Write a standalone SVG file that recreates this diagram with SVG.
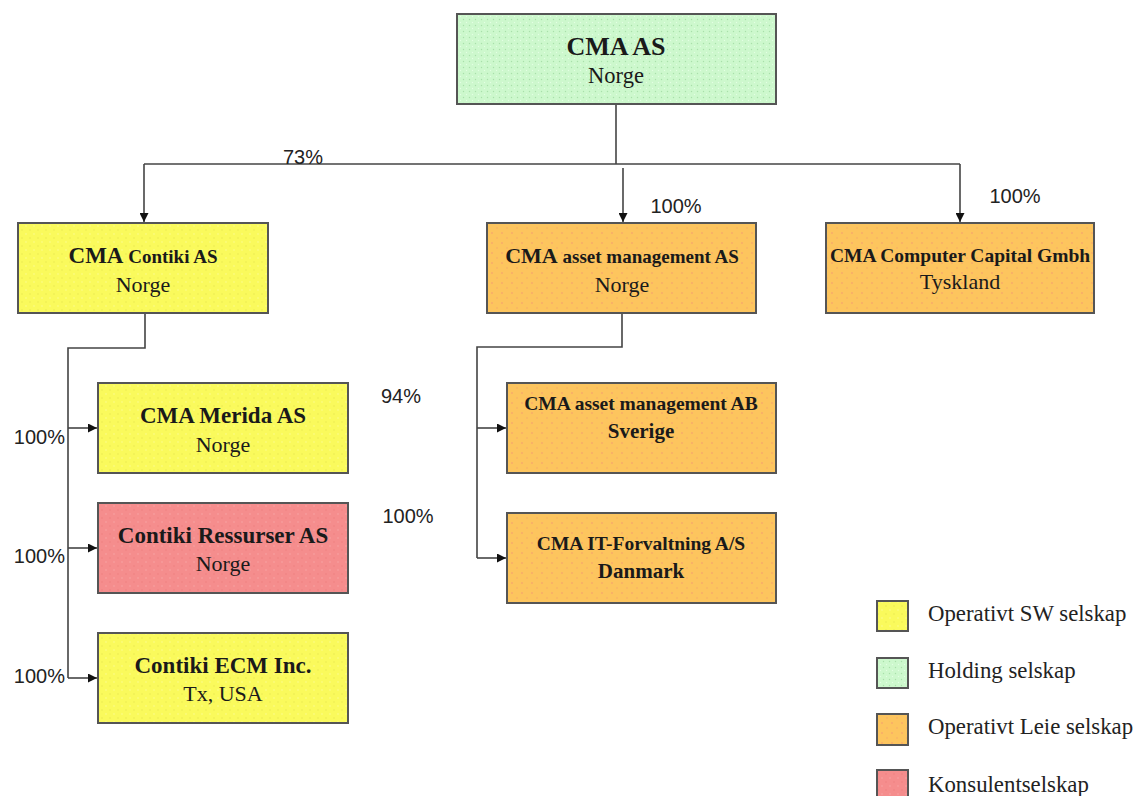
<svg xmlns="http://www.w3.org/2000/svg" width="1138" height="796" viewBox="0 0 1138 796">
<style>
  .box { stroke:#555; stroke-width:2; }
  .yel { fill:url(#pY); }
  .grn { fill:url(#pG); }
  .org { fill:url(#pO); }
  .red { fill:url(#pR); }
  .t { font-family:"Liberation Serif","Times New Roman",serif; fill:#1a1a1a; text-anchor:middle; }
  .b { font-weight:bold; }
  .pct { font-family:"Liberation Sans",Arial,sans-serif; font-size:20px; fill:#222; }
  .leg { font-family:"Liberation Serif","Times New Roman",serif; font-size:22.8px; fill:#222; }
  .conn { fill:none; stroke:#444; stroke-width:1.6; }
</style>
<defs>
  <pattern id="pY" width="8" height="8" patternUnits="userSpaceOnUse">
    <rect width="8" height="8" fill="#fafa5c"/><circle cx="2" cy="2" r="0.7" fill="#fdfd9a"/><circle cx="6" cy="6" r="0.7" fill="#e8e84e"/>
  </pattern>
  <pattern id="pG" width="6" height="6" patternUnits="userSpaceOnUse">
    <rect width="6" height="6" fill="#cdf8cd"/><circle cx="1.5" cy="1.5" r="0.7" fill="#a9e0aa"/><circle cx="4.5" cy="4.5" r="0.7" fill="#e3ffe3"/>
  </pattern>
  <pattern id="pO" width="10" height="10" patternUnits="userSpaceOnUse">
    <rect width="10" height="10" fill="#fdc55e"/><circle cx="2" cy="3" r="0.8" fill="#f59a70"/><circle cx="7" cy="8" r="0.8" fill="#f8ab6a"/>
  </pattern>
  <pattern id="pR" width="8" height="8" patternUnits="userSpaceOnUse">
    <rect width="8" height="8" fill="#f58d8d"/><circle cx="2" cy="2" r="0.7" fill="#f9a9a9"/><circle cx="6" cy="6" r="0.7" fill="#ee7c7c"/>
  </pattern>
  <marker id="arr" viewBox="0 0 10 10" refX="10" refY="5" markerWidth="9" markerHeight="9" markerUnits="userSpaceOnUse" orient="auto">
    <path d="M0,0 L10,5 L0,10 z" fill="#111"/>
  </marker>
</defs>
<rect width="1138" height="796" fill="#fff"/>

<g id="connectors">
  <path class="conn" d="M616,104 V164"/>
  <path class="conn" d="M144,164 H960"/>
  <path class="conn" d="M144,164 V222" marker-end="url(#arr)"/>
  <path class="conn" d="M623,168 V222" marker-end="url(#arr)"/>
  <path class="conn" d="M960,164 V222" marker-end="url(#arr)"/>
  <path class="conn" d="M145,313 V348 H68 V678"/>
  <path class="conn" d="M68,428 H97" marker-end="url(#arr)"/>
  <path class="conn" d="M68,548 H97" marker-end="url(#arr)"/>
  <path class="conn" d="M68,678 H97" marker-end="url(#arr)"/>
  <path class="conn" d="M622,313 V347 H477 V558"/>
  <path class="conn" d="M477,428 H506" marker-end="url(#arr)"/>
  <path class="conn" d="M477,558 H506" marker-end="url(#arr)"/>
  <text class="pct" x="303" y="164" text-anchor="middle">73%</text>
  <text class="pct" x="676" y="213" text-anchor="middle">100%</text>
  <text class="pct" x="1015" y="203" text-anchor="middle">100%</text>
  <text class="pct" x="65" y="444" text-anchor="end">100%</text>
  <text class="pct" x="65" y="563" text-anchor="end">100%</text>
  <text class="pct" x="65" y="683" text-anchor="end">100%</text>
  <text class="pct" x="401" y="403" text-anchor="middle">94%</text>
  <text class="pct" x="408" y="523" text-anchor="middle">100%</text>
</g>

<g id="cma-as">
  <rect class="box grn" x="457" y="14" width="319" height="90"/>
  <text class="t b" x="616" y="55" font-size="26">CMA AS</text>
  <text class="t" x="616" y="83" font-size="22.5">Norge</text>
</g>

<g id="cma-contiki-as">
  <rect class="box yel" x="18" y="223" width="250" height="90"/>
  <text class="t b" x="143" y="263"><tspan font-size="23">CMA</tspan><tspan font-size="19"> Contiki AS</tspan></text>
  <text class="t" x="143" y="292" font-size="22">Norge</text>
</g>

<g id="cma-asset-management-as">
  <rect class="box org" x="487" y="223" width="269" height="90"/>
  <text class="t b" x="622" y="263"><tspan font-size="22">CMA</tspan><tspan font-size="19"> asset management AS</tspan></text>
  <text class="t" x="622" y="292" font-size="22">Norge</text>
</g>

<g id="cma-computer-capital">
  <rect class="box org" x="826" y="223" width="268" height="90"/>
  <text class="t b" x="960" y="262" font-size="19.5">CMA Computer Capital Gmbh</text>
  <text class="t" x="960" y="289" font-size="22">Tyskland</text>
</g>

<g id="cma-merida-as">
  <rect class="box yel" x="98" y="383" width="250" height="90"/>
  <text class="t b" x="223" y="423" font-size="23">CMA Merida AS</text>
  <text class="t" x="223" y="452" font-size="22">Norge</text>
</g>

<g id="contiki-ressurser-as">
  <rect class="box red" x="98" y="503" width="250" height="90"/>
  <text class="t b" x="223" y="543" font-size="23">Contiki Ressurser AS</text>
  <text class="t" x="223" y="571" font-size="22">Norge</text>
</g>

<g id="contiki-ecm-inc">
  <rect class="box yel" x="98" y="633" width="250" height="90"/>
  <text class="t b" x="223" y="673" font-size="23">Contiki ECM Inc.</text>
  <text class="t" x="223" y="701" font-size="22">Tx, USA</text>
</g>

<g id="cma-asset-management-ab">
  <rect class="box org" x="507" y="383" width="269" height="90"/>
  <text class="t b" x="641" y="410" font-size="19.5">CMA asset management AB</text>
  <text class="t b" x="641" y="438" font-size="21">Sverige</text>
</g>

<g id="cma-it-forvaltning">
  <rect class="box org" x="507" y="513" width="269" height="90"/>
  <text class="t b" x="641" y="550" font-size="19.5">CMA IT-Forvaltning A/S</text>
  <text class="t b" x="641" y="578" font-size="21">Danmark</text>
</g>

<g id="legend">
  <rect class="box yel" x="877" y="601" width="31" height="30"/>
  <text class="leg" x="928" y="621">Operativt SW selskap</text>
  <rect class="box grn" x="877" y="658" width="31" height="30"/>
  <text class="leg" x="928" y="678">Holding selskap</text>
  <rect class="box org" x="877" y="714" width="31" height="31"/>
  <text class="leg" x="928" y="734">Operativt Leie selskap</text>
  <rect class="box red" x="877" y="770" width="31" height="31"/>
  <text class="leg" x="928" y="792">Konsulentselskap</text>
</g>
</svg>
